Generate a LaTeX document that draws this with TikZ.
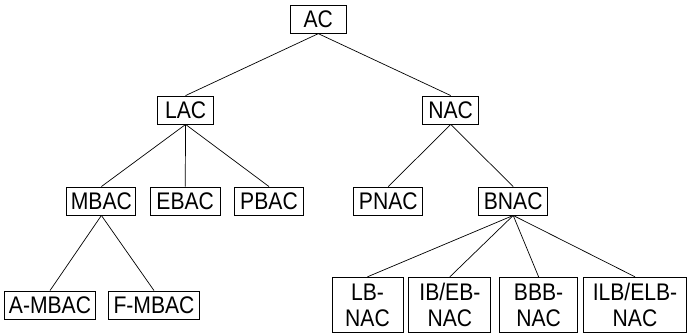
\documentclass[tikz,border=0pt]{standalone}
\usepackage{fontspec}
\setmainfont{Liberation Sans}
\newfontfamily\narrowsans[FakeStretch=0.88]{Liberation Sans}
\begin{document}
\begin{tikzpicture}[x=1pt,y=-1pt,
  box/.style={draw, line width=0.9pt, inner sep=0pt, minimum height=28pt, align=center,
    font=\narrowsans\fontsize{24}{26}\selectfont},
  tall/.style={box, minimum height=55.5pt},
  edge/.style={line width=0.7pt}]
\useasboundingbox (0,0) rectangle (687,333);
\node[box, minimum width=56pt] (ac) at (318.3,19.2) {AC};
\node[box, minimum width=56pt] (lac) at (185.6,110) {LAC};
\node[box, minimum width=56pt] (nac) at (450.7,110) {NAC};
\node[box, minimum width=69pt] (mbac) at (101.4,201) {MBAC};
\node[box, minimum width=70pt] (ebac) at (185.2,201) {EBAC};
\node[box, minimum width=69pt] (pbac) at (269,201) {PBAC};
\node[box, minimum width=69pt] (pnac) at (388.3,201) {PNAC};
\node[box, minimum width=69pt] (bnac) at (513.2,201) {BNAC};
\node[box, minimum width=91pt] (ambac) at (50,305) {A-MBAC};
\node[box, minimum width=91pt] (fmbac) at (154,305) {F-MBAC};
\node[tall, minimum width=71pt] (lb) at (367.5,305) {LB-\\NAC};
\node[tall, minimum width=82pt] (ib) at (449.9,305) {IB/EB-\\NAC};
\node[tall, minimum width=78pt] (bbb) at (538.6,305) {BBB-\\NAC};
\node[tall, minimum width=103pt] (ilb) at (635,305) {ILB/ELB-\\NAC};
\draw[edge] (ac.south) -- (lac.north);
\draw[edge] (ac.south) -- (nac.north);
\draw[edge] (lac.south) -- (mbac.north);
\draw[edge] (lac.south) -- (ebac.north);
\draw[edge] (lac.south) -- (pbac.north);
\draw[edge] (nac.south) -- (pnac.north);
\draw[edge] (nac.south) -- (bnac.north);
\draw[edge] (mbac.south) -- (ambac.north);
\draw[edge] (mbac.south) -- (fmbac.north);
\draw[edge] (bnac.south) -- (lb.north);
\draw[edge] (bnac.south) -- (ib.north);
\draw[edge] (bnac.south) -- (bbb.north);
\draw[edge] (bnac.south) -- (ilb.north);
\end{tikzpicture}
\end{document}
